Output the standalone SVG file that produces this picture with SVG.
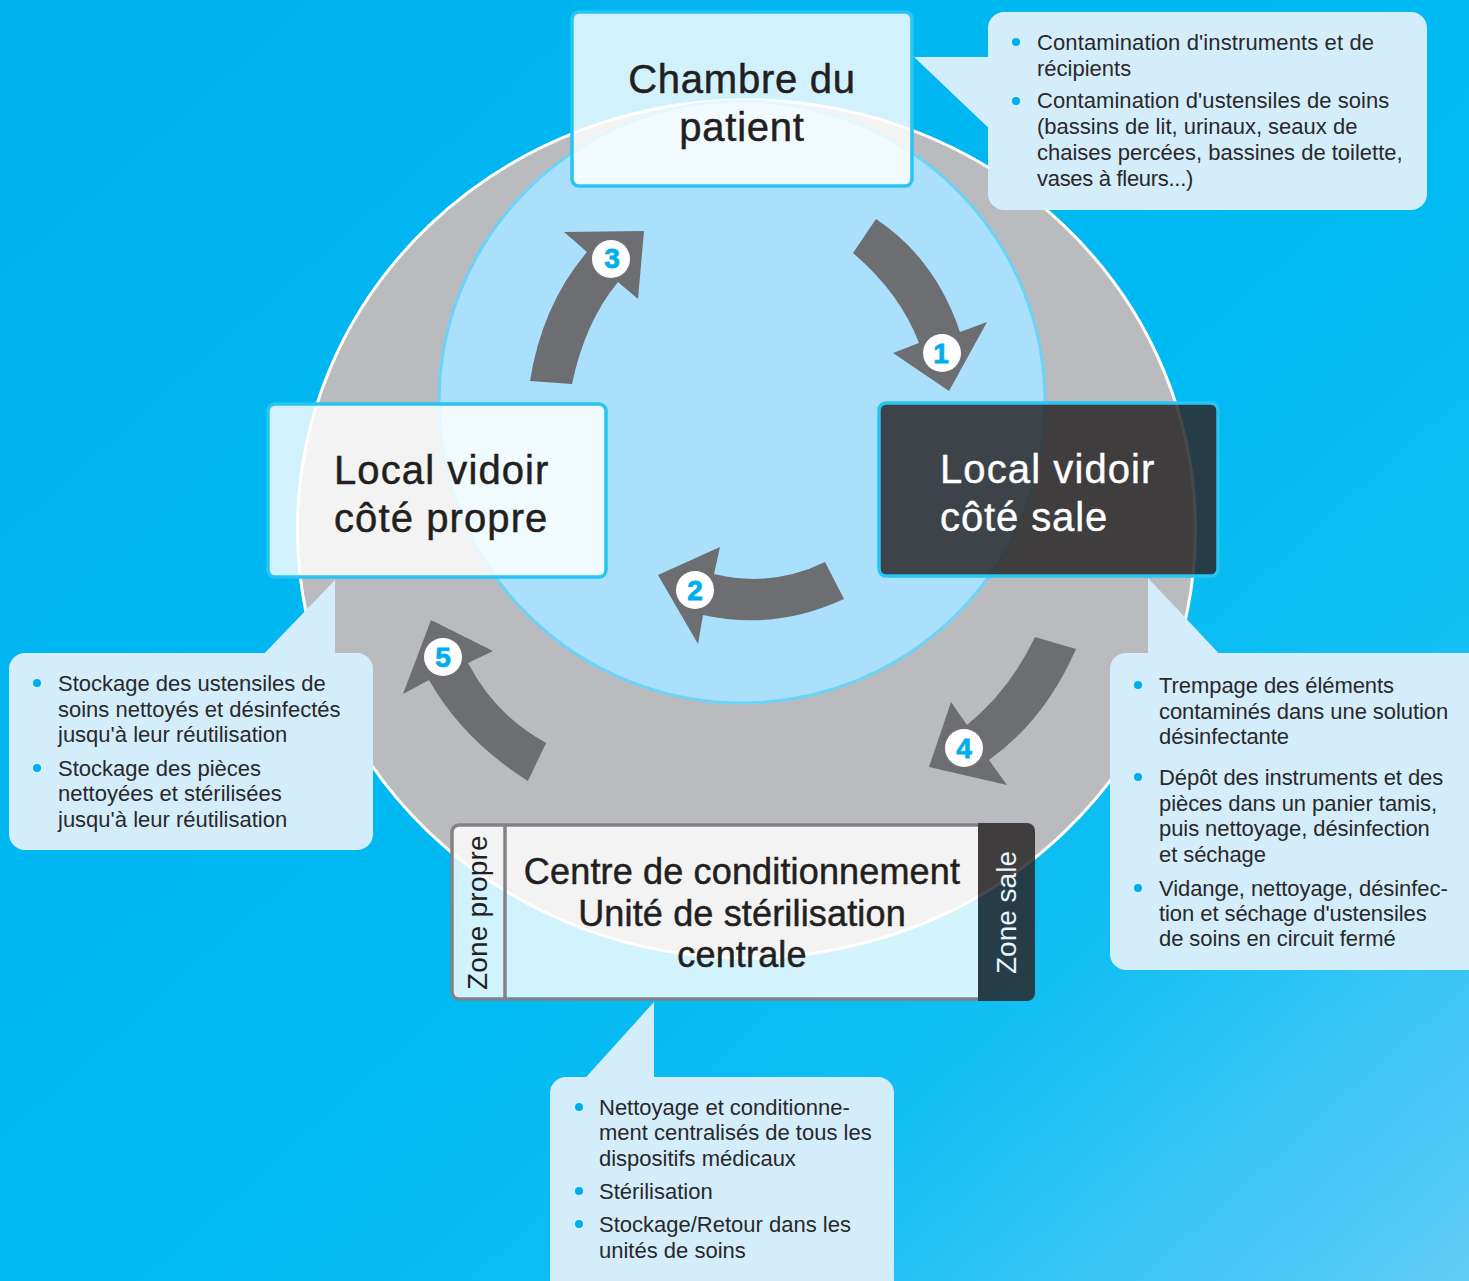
<svg xmlns="http://www.w3.org/2000/svg" width="1469" height="1281" viewBox="0 0 1469 1281">
<defs>
<linearGradient id="bg" gradientUnits="userSpaceOnUse" x1="300" y1="0" x2="1440" y2="1281">
<stop offset="0" stop-color="#00b3ef"/><stop offset=".5" stop-color="#00baf2"/><stop offset=".72" stop-color="#12bff3"/><stop offset="1" stop-color="#5ecbf8"/>
</linearGradient>
</defs>
<style>
text{font-family:"Liberation Sans",Arial,sans-serif;fill:#231f20}
.t{font-size:40px;stroke:#231f20;stroke-width:.5}
.t2{font-size:36px;stroke:#231f20;stroke-width:.5;letter-spacing:.16px;text-anchor:middle}
.tw{font-size:40px;fill:#fff;stroke:#fff;stroke-width:.4}
.z{font-size:28px}
.b{font-size:22px;fill:#2a2829}
.c{fill:#d4edfb}
.d{fill:#00aeef}
.w{fill:#fff;fill-opacity:.82;stroke:#29c4f4;stroke-width:3.500}
.a{fill:#6d6e71}
.n{font-size:28px;font-weight:bold;fill:#00aeef;stroke:#00aeef;stroke-width:.8;text-anchor:middle}
</style>
<rect width="1469" height="1281" fill="url(#bg)"/>
<g id="rings">
<ellipse cx="746.500" cy="529" rx="449" ry="429" fill="#babbbe" stroke="#fff" stroke-width="3"/>
<ellipse cx="742" cy="402" rx="303" ry="301" fill="#aae0fb" stroke="#6dd2f7" stroke-width="3"/>
</g>
<g id="connectors">
<path class="a" d="M876 219L853 253Q900 293 919 343L893 353L949 391L987 322L960 332Q935 258 876 219Z"/>
<path class="a" d="M530 381L572 384Q585 322 618 282L638 299L644 231L564 232L587 252Q542 305 530 381Z"/>
<path class="a" d="M825 562L844 599Q775 631 703 615L698 644L658 575L720 547L714 574Q772 588 825 562Z"/>
<path class="a" d="M1035 637L1076 649Q1045 720 989 760L1007 785L929 767L951 702L967 725Q1010 690 1035 637Z"/>
<path class="a" d="M546 743L528 781Q463 740 429 680L403 694L431 620L493 651L468 663Q495 715 546 743Z"/>
<ellipse cx="942" cy="353" rx="19" ry="19" fill="#fff"/><text class="n" x="941" y="363">1</text>
<ellipse cx="695" cy="590" rx="19" ry="19" fill="#fff"/><text class="n" x="695" y="600">2</text>
<ellipse cx="611" cy="259" rx="19" ry="19" fill="#fff"/><text class="n" x="612" y="268">3</text>
<ellipse cx="964" cy="748" rx="19" ry="19" fill="#fff"/><text class="n" x="964" y="758">4</text>
<ellipse cx="443" cy="657" rx="19" ry="19" fill="#fff"/><text class="n" x="443" y="667">5</text>
</g>
<g id="node-chambre">
<rect class="w" x="572" y="12" width="340" height="174" rx="7"/>
<text class="t" x="742" y="93" text-anchor="middle" style="letter-spacing:.75px">Chambre du</text>
<text class="t" x="742" y="141" text-anchor="middle" style="letter-spacing:.75px">patient</text>
</g>
<g id="node-propre">
<rect class="w" x="268" y="404" width="338" height="173" rx="7"/>
<text class="t" x="334" y="484" style="letter-spacing:1.1px">Local vidoir</text>
<text class="t" x="334" y="532" style="letter-spacing:1.1px">côté propre</text>
</g>
<g id="node-sale">
<rect x="879" y="403" width="339" height="173" rx="7" fill="#2a2729" fill-opacity=".85" stroke="#29c4f4" stroke-width="3.500"/>
<text class="tw" x="940" y="483" style="letter-spacing:1.1px">Local vidoir</text>
<text class="tw" x="940" y="531" style="letter-spacing:.9px">côté sale</text>
</g>
<g id="node-centre">
<path d="M978 825H459a7 7 0 0 0-7 7V992a7 7 0 0 0 7 7H978Z" fill="#fff" fill-opacity=".82" stroke="none"/>
<path d="M978 825H459a7 7 0 0 0-7 7V992a7 7 0 0 0 7 7H978" fill="none" stroke="#808285" stroke-width="3.500"/>
<path d="M978 823H1027a8 8 0 0 1 8 8V993a8 8 0 0 1-8 8H978Z" fill="#2a2729" fill-opacity=".85"/>
<path d="M505 825V999" stroke="#808285" stroke-width="3.500" fill="none"/>
<text class="t2" x="742" y="884">Centre de conditionnement</text>
<text class="t2" x="742" y="926">Unité de stérilisation</text>
<text class="t2" x="742" y="967">centrale</text>
<text class="z" transform="translate(487 990) rotate(-90)" style="letter-spacing:.2px">Zone propre</text>
<text class="z" transform="translate(1016 974) rotate(-90)" style="fill:#e6f6fc">Zone sale</text>
</g>
<g id="callout-top">
<path class="c" d="M914 57H1000V135H996Z"/>
<rect class="c" x="988" y="12" width="439" height="198" rx="16"/>
<circle class="d" cx="1016" cy="42" r="4"/><circle class="d" cx="1016" cy="101" r="4"/>
<text class="b" x="1037" y="50" style="letter-spacing:.12px">Contamination d'instruments et de</text>
<text class="b" x="1037" y="76">récipients</text>
<text class="b" x="1037" y="108" style="letter-spacing:.06px">Contamination d'ustensiles de soins</text>
<text class="b" x="1037" y="134">(bassins de lit, urinaux, seaux de</text>
<text class="b" x="1037" y="160">chaises percées, bassines de toilette,</text>
<text class="b" x="1037" y="186" style="letter-spacing:-.3px">vases à fleurs...)</text>
</g>
<g id="callout-left">
<path class="c" d="M335 580V660H258Z"/>
<rect class="c" x="9" y="653" width="364" height="197" rx="16"/>
<circle class="d" cx="37" cy="683" r="4"/><circle class="d" cx="37" cy="768" r="4"/>
<text class="b" x="58" y="691">Stockage des ustensiles de</text>
<text class="b" x="58" y="717">soins nettoyés et désinfectés</text>
<text class="b" x="58" y="742">jusqu'à leur réutilisation</text>
<text class="b" x="58" y="776">Stockage des pièces</text>
<text class="b" x="58" y="801">nettoyées et stérilisées</text>
<text class="b" x="58" y="827">jusqu'à leur réutilisation</text>
</g>
<g id="callout-right">
<path class="c" d="M1148 578V660H1225Z"/>
<rect class="c" x="1110" y="653" width="375" height="317" rx="16"/>
<circle class="d" cx="1138" cy="685" r="4"/><circle class="d" cx="1138" cy="777" r="4"/><circle class="d" cx="1138" cy="888" r="4"/>
<text class="b" x="1159" y="693" style="letter-spacing:-.07px">Trempage des éléments</text>
<text class="b" x="1159" y="719" style="letter-spacing:-.07px">contaminés dans une solution</text>
<text class="b" x="1159" y="744" style="letter-spacing:-.07px">désinfectante</text>
<text class="b" x="1159" y="785" style="letter-spacing:-.07px">Dépôt des instruments et des</text>
<text class="b" x="1159" y="811" style="letter-spacing:-.07px">pièces dans un panier tamis,</text>
<text class="b" x="1159" y="836" style="letter-spacing:-.07px">puis nettoyage, désinfection</text>
<text class="b" x="1159" y="862" style="letter-spacing:-.07px">et séchage</text>
<text class="b" x="1159" y="896" style="letter-spacing:-.07px">Vidange, nettoyage, désinfec-</text>
<text class="b" x="1159" y="921" style="letter-spacing:-.07px">tion et séchage d'ustensiles</text>
<text class="b" x="1159" y="946" style="letter-spacing:-.07px">de soins en circuit fermé</text>
</g>
<g id="callout-bottom">
<path class="c" d="M654 1002V1085H579Z"/>
<rect class="c" x="550" y="1077" width="344" height="220" rx="16"/>
<circle class="d" cx="579" cy="1107" r="4"/><circle class="d" cx="579" cy="1191" r="4"/><circle class="d" cx="579" cy="1224" r="4"/>
<text class="b" x="599" y="1115">Nettoyage et conditionne-</text>
<text class="b" x="599" y="1140">ment centralisés de tous les</text>
<text class="b" x="599" y="1166">dispositifs médicaux</text>
<text class="b" x="599" y="1199">Stérilisation</text>
<text class="b" x="599" y="1232">Stockage/Retour dans les</text>
<text class="b" x="599" y="1258">unités de soins</text>
</g>
</svg>
